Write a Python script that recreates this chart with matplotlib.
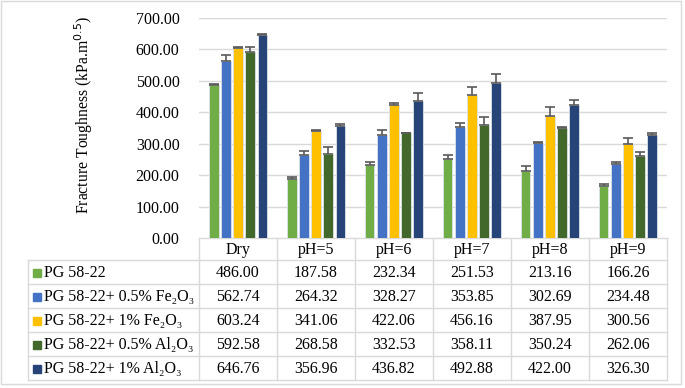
import numpy as np
import matplotlib
matplotlib.use('Agg')
import matplotlib.pyplot as plt
from matplotlib.patches import Rectangle

plt.rcParams['font.family'] = ['Liberation Serif', 'DejaVu Serif']

# Datos
condiciones = ['Dry', 'pH=5', 'pH=6', 'pH=7', 'pH=8', 'pH=9']
series = ['PG 58-22', 'PG 58-22+ 0.5% Fe₂O₃', 'PG 58-22+ 1% Fe₂O₃',
          'PG 58-22+ 0.5% Al₂O₃', 'PG 58-22+ 1% Al₂O₃']
pg = [486.00, 187.58, 232.34, 251.53, 213.16, 166.26]
fe_05 = [562.74, 264.32, 328.27, 353.85, 302.69, 234.48]
fe_1 = [603.24, 341.06, 422.06, 456.16, 387.95, 300.56]
al_05 = [592.58, 268.58, 332.53, 358.11, 350.24, 262.06]
al_1 = [646.76, 356.96, 436.82, 492.88, 422.00, 326.30]
valores = [pg, fe_05, fe_1, al_05, al_1]

# barras de error (estimadas)
err_pg = [3, 6, 8, 12, 17, 6]
err_fe_05 = [20, 14, 14, 13, 2, 7]
err_fe_1 = [4, 2, 8, 23, 28, 19]
err_al_05 = [16, 22, 3, 28, 2, 13]
err_al_1 = [3, 5, 26, 30, 16, 9]
errores = [err_pg, err_fe_05, err_fe_1, err_al_05, err_al_1]

colores = ['#70AD47', '#4472C4', '#FFC000', '#43682B', '#264478']

W, H = 685, 388
fig = plt.figure(figsize=(W / 100, H / 100), dpi=100)

# capa de fondo en pixeles para la tabla
bg = fig.add_axes([0, 0, 1, 1])
bg.set_xlim(0, W)
bg.set_ylim(H, 0)
bg.axis('off')

x0, x1 = 199, 667
y_top, y_base = 18, 238
ax = fig.add_axes([x0 / W, 1 - y_base / H, (x1 - x0) / W, (y_base - y_top) / H])
ax.set_xlim(-0.5, len(condiciones) - 0.5)
ax.set_ylim(0, 700)
ax.set_yticks(np.arange(0, 701, 100))
ax.set_yticklabels(['%.2f' % v for v in np.arange(0, 701, 100)], fontsize=11.5)
ax.set_xticks([])
ax.tick_params(axis='y', length=0, pad=14)
for s in ax.spines.values():
    s.set_visible(False)
ax.yaxis.grid(True, color='#D9D9D9', linewidth=1)
ax.set_axisbelow(True)
ax.set_ylabel('Fracture Toughness (kPa.m$^{0.5}$)', fontsize=11.3)
ax.yaxis.set_label_coords(-0.222, 0.56)

x = np.arange(len(condiciones))
paso = 0.155
ancho = 0.12
for i in range(len(series)):
    pos = x + (i - 2) * paso
    ax.bar(pos, valores[i], ancho, color=colores[i], edgecolor='#DDE3EA', linewidth=0.6)
    ax.errorbar(pos, valores[i], yerr=[np.zeros(6), errores[i]], fmt='none',
                ecolor='#595959', elinewidth=1.2, capsize=3.5, capthick=1.2)

# tabla de datos
col_w = (x1 - x0) / len(condiciones)
filas = [238, 260, 284, 308, 332, 356, 380]
lc = '#D9D9D9'
bg.plot([x0, x1], [238, 238], color=lc, lw=1)
for yy in filas[1:]:
    bg.plot([28, x1], [yy, yy], color=lc, lw=1)
bg.plot([28, 28], [260, 380], color=lc, lw=1)
for j in range(len(condiciones) + 1):
    xx = x0 + j * col_w
    bg.plot([xx, xx], [238, 380], color=lc, lw=1)

for j, c in enumerate(condiciones):
    bg.text(x0 + (j + 0.5) * col_w, (filas[0] + filas[1]) / 2 + 1, c,
            ha='center', va='center', fontsize=11.5)

for i, nombre in enumerate(series):
    yc = (filas[i + 1] + filas[i + 2]) / 2 + 1
    bg.add_patch(Rectangle((33, yc - 4), 8, 8, color=colores[i]))
    bg.text(44, yc, nombre, ha='left', va='center', fontsize=11.5)
    for j in range(len(condiciones)):
        bg.text(x0 + (j + 0.5) * col_w, yc, '%.2f' % valores[i][j],
                ha='center', va='center', fontsize=11.5)

# borde exterior
bg.add_patch(Rectangle((1, 1), 680, 383, fill=False, edgecolor='#D9D9D9', lw=1))

fig.savefig('out.png', dpi=100)
